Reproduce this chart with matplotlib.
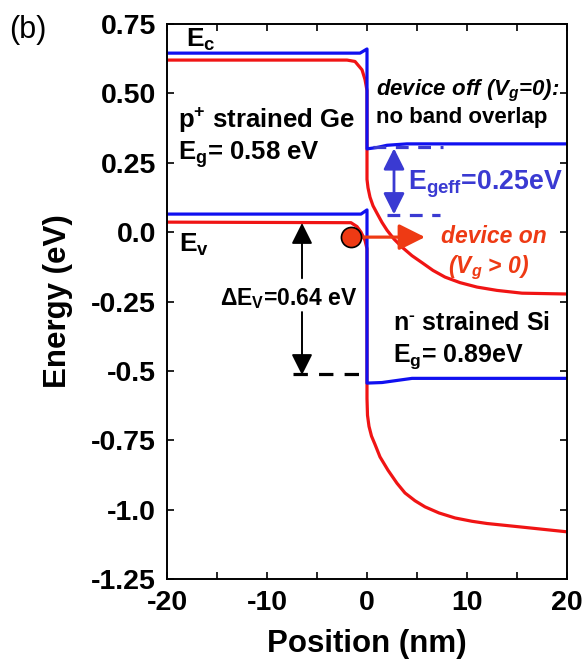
import matplotlib
matplotlib.use("Agg")
import matplotlib.pyplot as plt

plt.rcParams["font.family"] = ["Liberation Sans", "DejaVu Sans"]
plt.rcParams["mathtext.fontset"] = "custom"
plt.rcParams["mathtext.rm"] = "Liberation Sans:bold"
plt.rcParams["mathtext.bf"] = "Liberation Sans:bold"
plt.rcParams["mathtext.it"] = "Liberation Sans:bold:italic"
plt.rcParams["mathtext.default"] = "regular"

# Band edges with the device off (Vg = 0)
ec_off_x = [-20, -0.7, 0.0, 0.0, 1.0, 2.0, 4.0, 20]
ec_off_e = [0.645, 0.645, 0.66, 0.30, 0.305, 0.313, 0.318, 0.318]
ev_off_x = [-20, -0.6, 0.0, 0.0, 1.5, 4.5, 20]
ev_off_e = [0.065, 0.065, 0.08, -0.544, -0.542, -0.527, -0.527]

# Band edges with the device on (Vg > 0)
ec_on_x = [-20, -2.0, -1.2, -0.5, -0.2, 0.0, 0.0, 0.1, 0.3, 0.6, 1.0, 1.5, 2.0, 2.7,
           3.5, 4.5, 5.5, 6.6, 7.8, 9.3, 11.0, 13.0, 15.5, 20]
ec_on_e = [0.62, 0.62, 0.615, 0.585, 0.55, 0.51, 0.19, 0.16, 0.126, 0.095, 0.068, 0.035,
           0.007, -0.025, -0.054, -0.085, -0.11, -0.138, -0.162, -0.182, -0.198, -0.21,
           -0.22, -0.223]
ev_on_x = [-20, -1.6, -1.0, -0.6, -0.2, 0.0, 0.0, 0.05, 0.2, 0.45, 0.8, 1.3, 2.1, 3.0,
           3.8, 4.8, 5.8, 7.2, 8.8, 10.5, 12.0, 15.5, 20]
ev_on_e = [0.036, 0.034, 0.02, 0.0, -0.03, -0.06, -0.60, -0.66, -0.70, -0.735, -0.765,
           -0.81, -0.858, -0.905, -0.94, -0.968, -0.99, -1.012, -1.03, -1.042, -1.05,
           -1.063, -1.08]

# Effective gap and valence band offset annotations
egeff_top = 0.31
egeff = 0.25
dev_top = 0.033
dev_bottom = -0.51
hole_x, hole_e = -1.6, -0.018

x_ticks = [-20, -15, -10, -5, 0, 5, 10, 15, 20]
x_labels = ["-20", "", "-10", "", "0", "", "10", "", "20"]
y_ticks = [0.75, 0.5, 0.25, 0.0, -0.25, -0.5, -0.75, -1.0, -1.25]
y_labels = ["0.75", "0.50", "0.25", "0.0", "-0.25", "-0.5", "-0.75", "-1.0", "-1.25"]

RED = "#f01414"
BLUE = "#1010f0"
EG_BLUE = "#3a3ad2"
ON_RED = "#ee3a14"

fig = plt.figure(figsize=(5.84, 6.6), dpi=100)
ax = fig.add_axes([167 / 584, 1 - 579 / 660, 400 / 584, 555 / 660])

ax.plot(ec_on_x, ec_on_e, color=RED, lw=2.3, solid_joinstyle="round")
ax.plot(ev_on_x, ev_on_e, color=RED, lw=2.3, solid_joinstyle="round")
ax.plot(ec_off_x, ec_off_e, color=BLUE, lw=2.3, solid_joinstyle="round")
ax.plot(ev_off_x, ev_off_e, color=BLUE, lw=2.3, solid_joinstyle="round")

# Effective band gap marker
ax.plot([0.6, 7.6], [egeff_top - 0.004, egeff_top - 0.004], color=EG_BLUE, lw=2.3,
        linestyle=(0, (4, 3)))
ax.plot([2.0, 7.3], [egeff_top - egeff, egeff_top - egeff], color=EG_BLUE, lw=2.3,
        linestyle=(0, (4, 3)))
ax.annotate("", xy=(2.7, egeff_top - 0.008), xytext=(2.7, egeff_top - egeff + 0.004),
            arrowprops=dict(arrowstyle="<|-|>", color=EG_BLUE, lw=2.0,
                            mutation_scale=32, shrinkA=0, shrinkB=0))
ax.text(4.1, 0.152, "E$_{geff}$=0.25eV", color=EG_BLUE, fontsize=19.2,
        fontweight="bold", ha="left", va="baseline")

# Valence band offset marker
ax.plot([-7.4, -0.5], [dev_bottom, dev_bottom], color="black", lw=2.3,
        linestyle=(0, (4.5, 3.5)))
ax.annotate("", xy=(-6.5, dev_top), xytext=(-6.5, -0.166),
            arrowprops=dict(arrowstyle="-|>", color="black", lw=1.4,
                            mutation_scale=32, shrinkA=0, shrinkB=0))
ax.annotate("", xy=(-6.5, dev_bottom - 0.005), xytext=(-6.5, -0.288),
            arrowprops=dict(arrowstyle="-|>", color="black", lw=1.4,
                            mutation_scale=32, shrinkA=0, shrinkB=0))
ax.text(-14.7, -0.263, "ΔE$_V$=0.64 eV", fontsize=16.5, fontweight="bold",
        ha="left", va="baseline")

# Tunnelling hole and arrow
ax.annotate("", xy=(5.8, hole_e), xytext=(hole_x + 0.6, hole_e),
            arrowprops=dict(arrowstyle="-|>", color=ON_RED, lw=2.3,
                            mutation_scale=40, shrinkA=0, shrinkB=0))
ax.scatter([hole_x], [hole_e], s=210, color=ON_RED, edgecolor="black",
           linewidth=1.2, zorder=5)

# Region labels
ax.text(-18.1, 0.667, "E$_c$", fontsize=19, fontweight="bold", ha="left", va="baseline")
ax.text(-18.8, -0.072, "E$_v$", fontsize=19, fontweight="bold", ha="left", va="baseline")
ax.text(-18.9, 0.375, "p$^{+}$ strained Ge", fontsize=18.5, fontweight="bold",
        ha="left", va="baseline")
ax.text(-18.9, 0.26, "E$_g$= 0.58 eV", fontsize=18.5, fontweight="bold",
        ha="left", va="baseline")
ax.text(0.9, 0.494, "device off (V$_g$=0):", fontsize=16, fontweight="bold",
        style="italic", ha="left", va="baseline")
ax.text(0.9, 0.393, "no band overlap", fontsize=16, fontweight="bold",
        ha="left", va="baseline")
ax.text(7.4, -0.04, "device on", fontsize=16.5, fontweight="bold", style="italic",
        color=ON_RED, ha="left", va="baseline")
ax.text(8.1, -0.148, "(V$_g$ > 0)", fontsize=16.5, fontweight="bold", style="italic",
        color=ON_RED, ha="left", va="baseline")
ax.text(2.6, -0.353, r"n$^{\text{-}}$ strained Si", fontsize=18, fontweight="bold",
        ha="left", va="baseline")
ax.text(2.6, -0.468, "E$_g$= 0.89eV", fontsize=18, fontweight="bold",
        ha="left", va="baseline")

ax.set_xlim(-20, 20)
ax.set_ylim(-1.25, 0.75)
ax.set_xticks(x_ticks)
ax.set_xticklabels(x_labels)
ax.set_yticks(y_ticks)
ax.set_yticklabels(y_labels)
ax.tick_params(direction="in", top=True, right=True, length=5, width=1.2,
               labelsize=20.5, pad=8)
for lab in ax.get_xticklabels() + ax.get_yticklabels():
    lab.set_fontweight("bold")
for sp in ax.spines.values():
    sp.set_linewidth(1.4)

ax.set_xlabel("Position (nm)", fontsize=22.5, fontweight="bold", labelpad=9)
ax.set_ylabel("Energy (eV)", fontsize=22.5, fontweight="bold", labelpad=13)

fig.text(9 / 584, 1 - 30 / 660, "(b)", fontsize=22, ha="left", va="center")

fig.savefig("out.png", dpi=100)
